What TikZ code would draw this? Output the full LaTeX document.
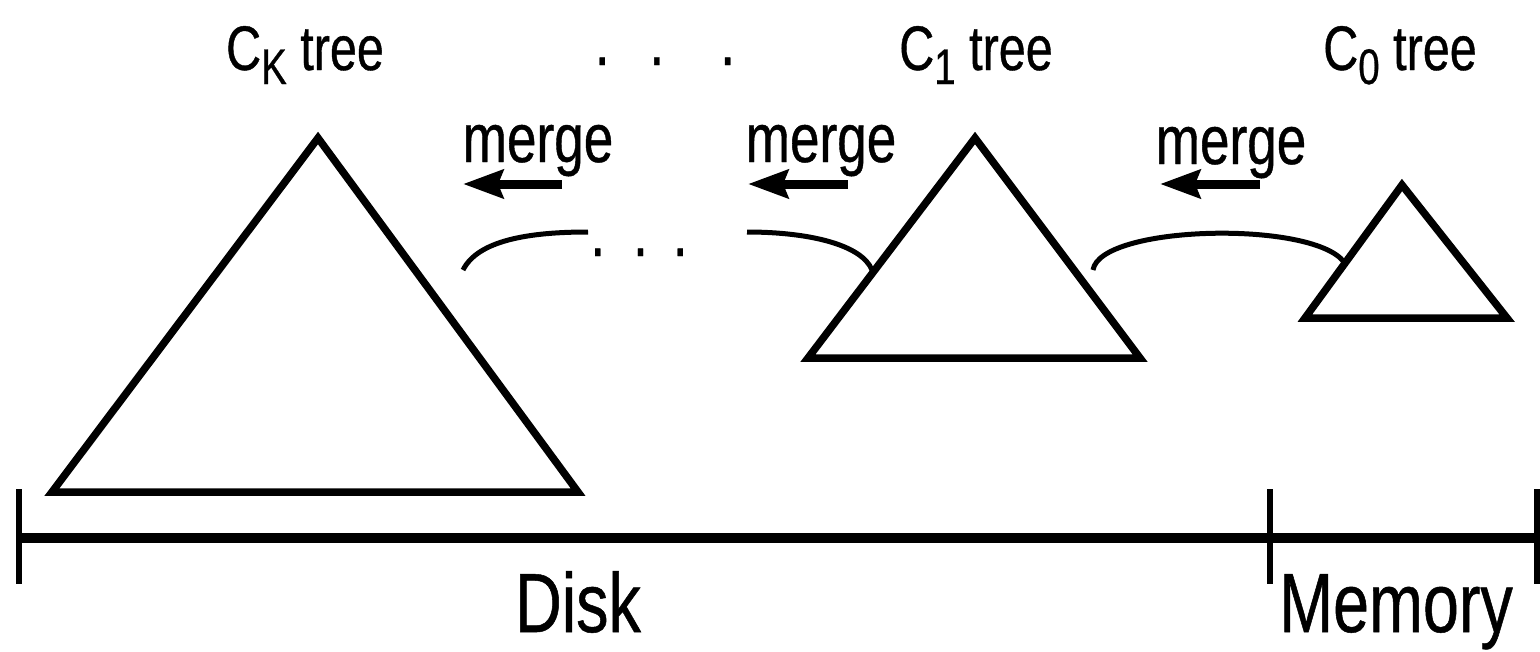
\documentclass[tikz,border=0pt]{standalone}
\usepackage{fontspec}
\newfontfamily\lab{Liberation Sans}[FakeStretch=0.77,FakeBold=0.6]
\usetikzlibrary{arrows.meta}
\newcommand\lowsub[1]{\lower 14pt\hbox{\fontsize{50}{50}\selectfont #1}}
\tikzset{
  tree/.style={line width=7.5pt, line join=miter},
  axisline/.style={line width=10pt},
  tick/.style={line width=6pt},
  arc/.style={line width=5pt},
  mergearrow/.style={line width=9pt, -{Stealth[length=40pt,width=28pt,inset=5pt]}},
  title/.style={font=\lab\fontsize{63}{63}\selectfont, anchor=base, inner sep=0pt},
  mlabel/.style={font=\lab\fontsize{69}{69}\selectfont, anchor=base, inner sep=0pt},
  big/.style={font=\lab\fontsize{84}{84}\selectfont, anchor=base, inner sep=0pt},
}
\begin{document}
\begin{tikzpicture}[x=1pt,y=-1pt]
\useasboundingbox (0,0) rectangle (1540,651);
% trees
\coordinate (kA) at (318,138); \coordinate (kL) at (52,492); \coordinate (kR) at (578,492);
\coordinate (oA) at (975,138); \coordinate (oL) at (808,358); \coordinate (oR) at (1140,358);
\coordinate (zA) at (1402,185); \coordinate (zL) at (1305,318); \coordinate (zR) at (1507,318);
\draw[tree] (kA) -- (kL) -- (kR) -- cycle;
\draw[tree] (oA) -- (oL) -- (oR) -- cycle;
\draw[tree] (zA) -- (zL) -- (zR) -- cycle;
% titles
\node[title] (tk) at (305,70) {C\lowsub{K} tree};
\node[title] (t1) at (976,70) {C\lowsub{1} tree};
\node[title] (t0) at (1400,70) {C\lowsub{0} tree};
\node[mlabel] (topdots) at (665,65) {.\hspace{40pt}.\hspace{56pt}.};
% merge labels and arrows
\node[mlabel] (m1) at (538,162) {merge};
\node[mlabel] (m2) at (821,162) {merge};
\node[mlabel] (m3) at (1231,164) {merge};
\coordinate (a1s) at (562,184); \coordinate (a1e) at (463,184);
\coordinate (a2s) at (848,184); \coordinate (a2e) at (748,184);
\coordinate (a3s) at (1260,184); \coordinate (a3e) at (1160,184);
\draw[mergearrow] (a1s) -- (a1e);
\draw[mergearrow] (a2s) -- (a2e);
\draw[mergearrow] (a3s) -- (a3e);
% arcs
\coordinate (c1s) at (463,270); \coordinate (c1e) at (588,232);
\coordinate (c2s) at (747,232); \coordinate (c2e) at (872,270);
\coordinate (c3s) at (1093,270); \coordinate (c3e) at (1344,262);
\draw[arc] (c1s) .. controls (478,240) and (530,232) .. (c1e);
\draw[arc] (c2s) .. controls (810,232) and (862,245) .. (c2e);
\draw[arc] (c3s) .. controls (1100,225) and (1312,220) .. (c3e);
\node[mlabel] (middots) at (639,256) {.\hspace{28pt}.\hspace{25pt}.};
% axis
\coordinate (ax0) at (19,538); \coordinate (ax1) at (1270,538); \coordinate (ax2) at (1537,538);
\draw[axisline] (ax0) -- (ax2);
\draw[tick] (19,489) -- (19,584);
\draw[tick] (1270,489) -- (1270,584);
\draw[tick] (1537,489) -- (1537,584);
\node[big] (disk) at (578,632) {Disk};
\node[big] (mem) at (1396,632) {Memory};
\end{tikzpicture}
\end{document}
